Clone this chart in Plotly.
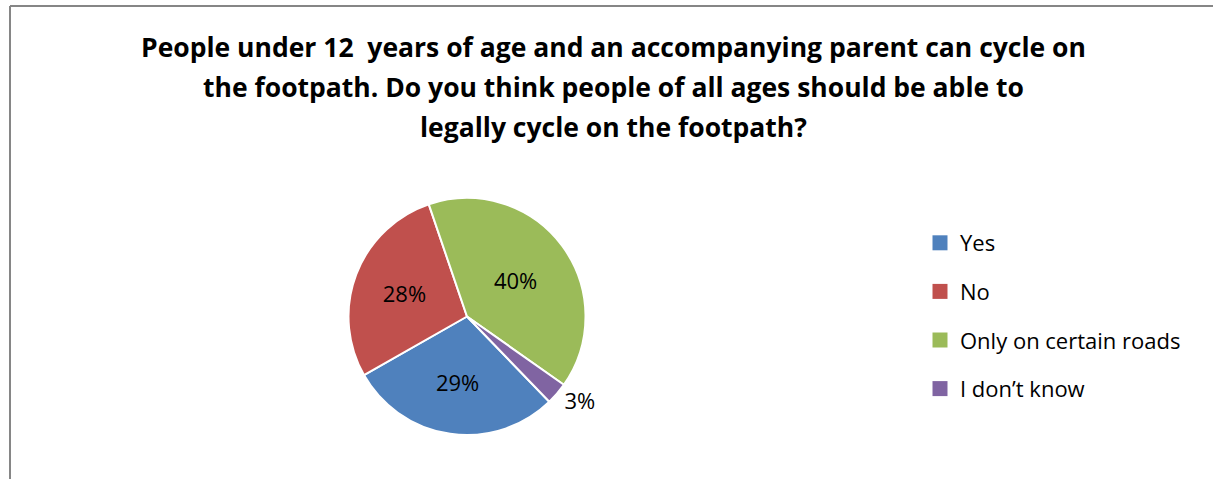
import plotly.graph_objects as go

categories = ["Yes", "No", "Only on certain roads", "I don\u2019t know"]
values = [29, 28, 40, 3]
colors = ["#4F81BD", "#C0504D", "#9BBB59", "#8064A2"]
title_lines = [
    "People under 12  years of age and an accompanying parent can cycle on",
    "the footpath. Do you think people of all ages should be able to",
    "legally cycle on the footpath?",
]

W, H = 1213, 479
FONT = "Open Sans"

fig = go.Figure()
fig.add_trace(go.Pie(
    labels=categories, values=values, sort=False, direction="clockwise",
    rotation=136,
    marker=dict(colors=colors, line=dict(color="white", width=2)),
    textinfo="percent",
    textposition=["inside", "inside", "inside", "outside"],
    textfont=dict(family=FONT, size=22, color="black"),
    insidetextorientation="horizontal",
    showlegend=False,
    domain=dict(x=[(467 - 118.5) / W, (467 + 118.5) / W],
                y=[(H - 316.5 - 118.5) / H, (H - 316.5 + 118.5) / H]),
))

for i, (c, col) in enumerate(zip(categories, colors)):
    fig.add_trace(go.Scatter(
        x=[None], y=[None], mode="markers", name=c,
        marker=dict(symbol="square", size=15, color=col),
        legendgroup=f"g{i}", showlegend=True, hoverinfo="skip",
    ))

for i, line in enumerate(title_lines):
    fig.add_annotation(
        text=f"<b>{line}</b>", xref="paper", yref="paper",
        x=613 / W, y=1 - (47.5 + 39.5 * i) / H, xanchor="center", yanchor="middle",
        showarrow=False, font=dict(family=FONT, size=26.5, color="black"),
    )

fig.add_shape(type="line", xref="paper", yref="paper",
              x0=10 / W, x1=1.0, y0=1 - 6 / H, y1=1 - 6 / H,
              line=dict(color="#868686", width=2))
fig.add_shape(type="line", xref="paper", yref="paper",
              x0=10 / W, x1=10 / W, y0=0, y1=1 - 6 / H,
              line=dict(color="#868686", width=2))

fig.update_layout(
    width=W, height=H,
    margin=dict(l=0, r=0, t=0, b=0),
    paper_bgcolor="white", plot_bgcolor="white",
    xaxis=dict(visible=False, domain=[0.9, 0.91]),
    yaxis=dict(visible=False, domain=[0.9, 0.91]),
    showlegend=True,
    legend=dict(
        x=920 / W, y=1 - 222 / H, xanchor="left", yanchor="top",
        font=dict(family=FONT, size=22, color="black"),
        tracegroupgap=17, itemsizing="trace", bgcolor="rgba(0,0,0,0)",
    ),
    font=dict(family=FONT),
)

fig.write_html(
    "out.html",
    config={"displayModeBar": False},
    post_script="document.body.style.margin='0';document.body.style.padding='0';",
)
